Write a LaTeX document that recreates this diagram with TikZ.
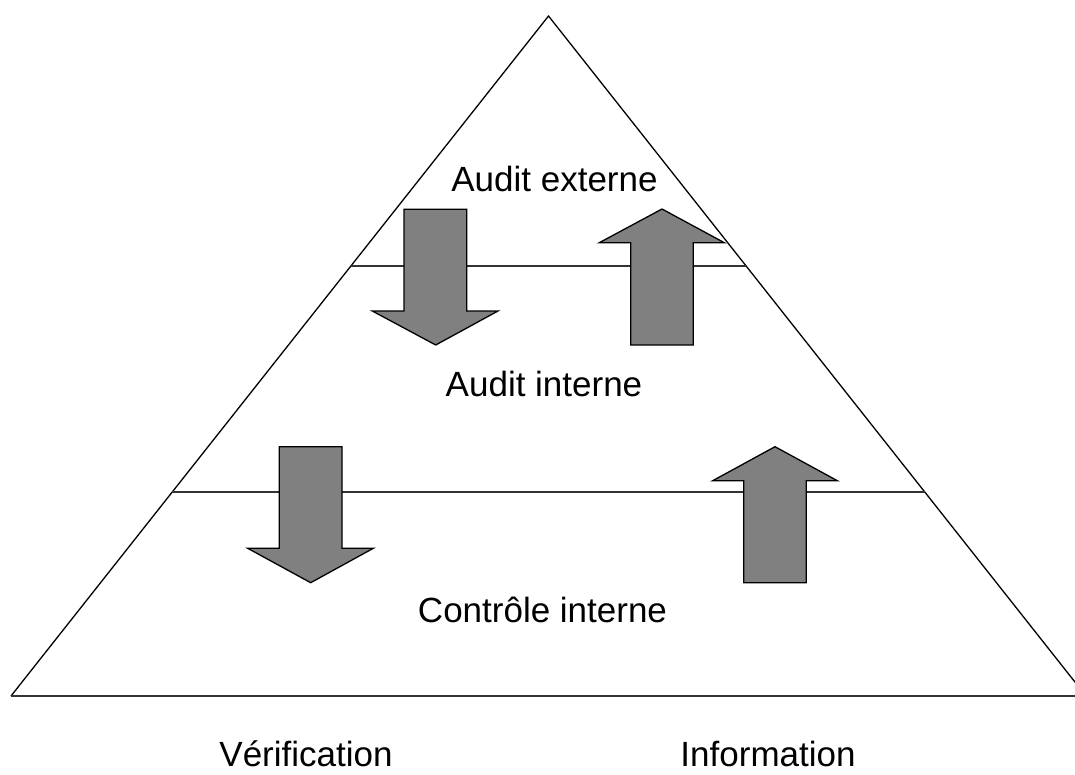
\documentclass[tikz,border=0pt]{standalone}
\usepackage{fontspec}
\setmainfont{Liberation Sans}
\usetikzlibrary{calc}
\tikzset{
  edge/.style={draw=black, line width=1.3pt},
  level/.style={draw=black!80, line width=1.5pt},
  bigarrow/.style={draw=black, line width=1.3pt, fill=black!50, line join=miter},
  label/.style={font=\fontsize{35}{42}\selectfont, anchor=base, inner sep=0pt}
}
\begin{document}
\begin{tikzpicture}[x=1pt, y=-1pt]
  \useasboundingbox (0,0) rectangle (1075,775);
  \clip (0,0) rectangle (1075,775);

  % pyramid corners
  \coordinate (apex)  at (548.5,16);
  \coordinate (left)  at (11,696);
  \coordinate (right) at (1086,696);

  % level separators
  \coordinate (l1a) at ($(apex)!0.3676!(left)$);
  \coordinate (l1b) at ($(apex)!0.3676!(right)$);
  \coordinate (l2a) at ($(apex)!0.7!(left)$);
  \coordinate (l2b) at ($(apex)!0.7!(right)$);

  \draw[edge] (left) -- (apex) -- (right);
  \draw[level] (left) -- (right);
  \draw[level] (l1a) -- (l1b);
  \draw[level] (l2a) -- (l2b);

  % block arrows
  \draw[bigarrow] (404,209.3) -- (466.7,209.3) -- (466.7,311) -- (498,311)
      -- (435.7,345) -- (372.3,311) -- (404,311) -- cycle;
  \draw[bigarrow] (630.7,345) -- (693.3,345) -- (693.3,242.7) -- (724.3,242.7)
      -- (662,209) -- (599.3,242.7) -- (630.7,242.7) -- cycle;
  \draw[bigarrow] (279.3,446.7) -- (342,446.7) -- (342,548.3) -- (373.3,548.3)
      -- (310.7,582.7) -- (247.7,548.3) -- (279.3,548.3) -- cycle;
  \draw[bigarrow] (743.7,582.7) -- (806.3,582.7) -- (806.3,480.7) -- (837.3,480.7)
      -- (775,446.7) -- (712.7,480.7) -- (743.7,480.7) -- cycle;

  % level names
  \node[label] (ext) at (554.5,191.7) {Audit externe};
  \node[label] (int) at (544,396.7) {Audit interne};
  \node[label] (ctl) at (542.5,622) {Contrôle interne};

  % directions
  \node[label] (verif) at (306,766.7) {Vérification};
  \node[label] (info)  at (768,766.7) {Information};
\end{tikzpicture}
\end{document}
